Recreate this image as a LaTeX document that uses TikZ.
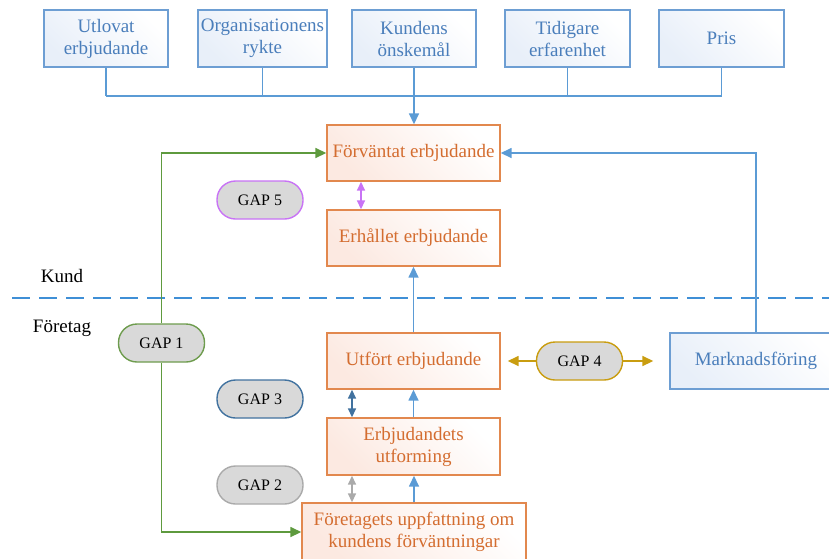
\documentclass[tikz,border=0pt]{standalone}
\usepackage{fontspec}
\setmainfont{Liberation Serif}
\usetikzlibrary{arrows.meta,calc}

\definecolor{topborder}{HTML}{6D9ED3}
\definecolor{toptext}{HTML}{4A7EBB}
\definecolor{topfill}{HTML}{E8EFF9}
\definecolor{orborder}{HTML}{E2884E}
\definecolor{ortext}{HTML}{D46D30}
\definecolor{orfill}{HTML}{FCE9E1}
\definecolor{pillfill}{HTML}{D9D9D9}
\definecolor{gapgreen}{HTML}{6E9C4E}
\definecolor{linegreen}{HTML}{5E9A3E}
\definecolor{gapviolet}{HTML}{C873F5}
\definecolor{gapdarkblue}{HTML}{41729F}
\definecolor{gapgray}{HTML}{AAAAAA}
\definecolor{gapgold}{HTML}{C99D10}
\definecolor{flowblue}{HTML}{5B9BD5}
\definecolor{splitblue}{HTML}{3F8FD6}

\tikzset{
  sourcebox/.style={draw=topborder, line width=1.4pt, left color=topfill, right color=white,
    shading angle=135, text=toptext, minimum width=124pt, minimum height=57pt,
    align=center, font=\fontsize{19}{22}\selectfont, inner sep=0pt},
  stagebox/.style={draw=orborder, line width=1.4pt, left color=orfill, right color=white,
    shading angle=135, text=ortext, minimum width=173pt, minimum height=56pt,
    align=center, font=\fontsize{19}{22}\selectfont, inner sep=0pt},
  gappill/.style={fill=pillfill, line width=1.4pt, rounded corners=18.5pt,
    minimum width=86pt, minimum height=38pt, inner sep=0pt,
    font=\fontsize{16}{18}\selectfont},
  sidelabel/.style={font=\fontsize{19}{22}\selectfont, inner sep=0pt},
  flow/.style={draw=flowblue, line width=1.6pt},
  gapline/.style={line width=1.6pt},
  tip/.style={-{Triangle[length=11pt,width=10pt]}},
  tips/.style={{Triangle[length=9pt,width=8pt]}-{Triangle[length=9pt,width=8pt]}}
}

\begin{document}
\begin{tikzpicture}[x=1pt,y=-1pt]
\useasboundingbox (0,0) rectangle (829,558);

% influences on the expected offer
\node[sourcebox] (utlovat) at (106,38.5) {Utlovat\\erbjudande};
\node[sourcebox, minimum width=129pt] (rykte) at (262.5,38.5) {Organisationens\\rykte};
\node[sourcebox] (onskemal) at (414,38.5) {Kundens\\önskemål};
\node[sourcebox, minimum width=125pt] (erfarenhet) at (567.5,38.5) {Tidigare\\erfarenhet};
\node[sourcebox, minimum width=125pt] (pris) at (721.5,38.5) {Pris};

% offer stages
\node[stagebox] (forvantat) at (413.5,153) {Förväntat erbjudande};
\node[stagebox] (erhallet) at (413.5,238) {Erhållet erbjudande};
\node[stagebox] (utfort) at (413.5,361) {Utfört erbjudande};
\node[stagebox, minimum height=57pt] (utformning) at (413.5,446.5) {Erbjudandets\\utforming};
\node[stagebox, minimum width=224pt, minimum height=58pt] (uppfattning) at (414,532)
  {Företagets uppfattning om\\kundens förväntningar};
\node[sourcebox, minimum width=172pt, minimum height=56pt] (marknad) at (756,361) {Marknadsföring};

% customer / company split
\coordinate (splitL) at (12,298);
\coordinate (splitR) at (829,298);
\draw[splitblue, line width=2.8pt, dash pattern=on 18pt off 9pt] (splitL) -- (splitR);
\node[sidelabel] (kund) at (62,276) {Kund};
\node[sidelabel] (foretag) at (62,328) {Företag};

% gaps
\node[gappill, draw=gapgreen] (gap1) at (161.5,343) {GAP 1};
\node[gappill, draw=gapgray] (gap2) at (260,485) {GAP 2};
\node[gappill, draw=gapdarkblue] (gap3) at (260,399) {GAP 3};
\node[gappill, draw=gapgold] (gap4) at (579.5,361) {GAP 4};
\node[gappill, draw=gapviolet] (gap5) at (260,200) {GAP 5};

% bus from the influences
\coordinate (busL) at (106,96);
\coordinate (busR) at (721.5,96);
\draw[flow] (busL) -- (busR);
\foreach \n in {utlovat,rykte,erfarenhet,pris}
  \draw[flow] (\n.south) -- (\n.south |- busL);
\draw[flow, tip] (onskemal.south) -- (onskemal.south |- forvantat.north);

% marketing feeds the expectation
\draw[flow, tip] (marknad.north) |- (forvantat.east);

% upward flow through the stages
\draw[flow, tip] (utfort.north) -- (erhallet.south);
\draw[flow, tip] (utformning.north) -- (utformning.north |- utfort.south);
\draw[flow, tip] (uppfattning.north) -- (uppfattning.north |- utformning.south);

% gap 1 line
\draw[linegreen, gapline, tip] (gap1.north) |- (forvantat.west);
\draw[linegreen, gapline, tip] (gap1.south) |- (uppfattning.west);

% gap double arrows
\draw[gapviolet, gapline, tips] ([xshift=-52.5pt]forvantat.south) -- ([xshift=-52.5pt]erhallet.north);
\draw[gapdarkblue, gapline, tips] ([xshift=-61.5pt]utfort.south) -- ([xshift=-61.5pt]utformning.north);
\draw[gapgray, gapline, tips] ([xshift=-61.5pt]utformning.south) -- ([xshift=-62pt]uppfattning.north);

% gap 4 arrows
\coordinate (g4left) at ($(utfort.east)+(7,0)$);
\coordinate (g4right) at ($(marknad.west)+(-16,0)$);
\draw[gapgold, gapline, tip] (gap4.west) -- (g4left);
\draw[gapgold, gapline, tip] (gap4.east) -- (g4right);
\end{tikzpicture}
\end{document}
